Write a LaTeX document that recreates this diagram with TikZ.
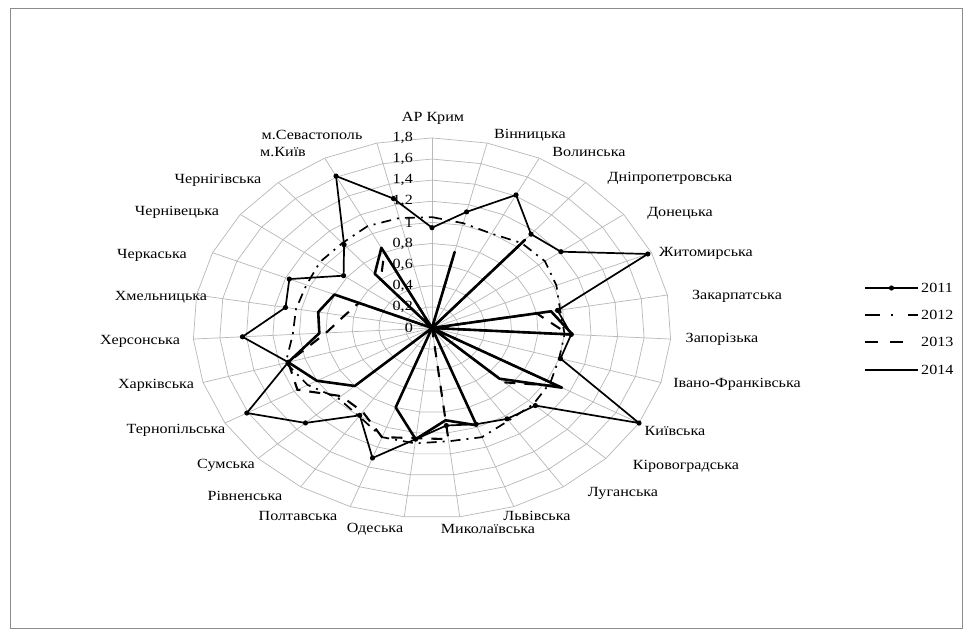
\documentclass[tikz,border=0pt]{standalone}
\usepackage{fontspec}
\setmainfont{Liberation Serif}
\usepackage{graphicx}
\newcommand\sxx[1]{\scalebox{1.15}[1]{#1}}
\begin{document}
\begin{tikzpicture}[x=1pt,y=1pt,
  gridline/.style={draw=black!28,line width=0.7pt},
  catlab/.style={font=\fontsize{14}{15}\selectfont,inner sep=0pt},
  ticklab/.style={font=\fontsize{14}{15}\selectfont,inner sep=0pt,anchor=east},
  legtext/.style={font=\fontsize{14}{15}\selectfont,inner sep=0pt,anchor=west},
  sA/.style={draw=black,line width=1.7pt,line join=round},
  sB/.style={draw=black,line width=1.7pt,dash pattern=on 10pt off 6pt on 2pt off 6pt},
  sC/.style={draw=black,line width=2.1pt,dash pattern=on 11pt off 9pt},
  sD/.style={draw=black,line width=2.6pt,line join=round},
  markdot/.style={fill=black}]
\useasboundingbox (0,0) rectangle (972,-637);
\fill[white] (0,0) rectangle (972,-637);
\draw[black!45,line width=0.8pt] (10,-8) rectangle (962,-628);
\def\dataA{{0.95,1.13,1.41,1.16,1.21,1.77,0.96,1.05,1.01,1.80,1.07,1.03,0.97,0.93,1.06,1.31,0.99,1.31,1.61,1.13,1.43,1.12,1.17,0.83,1.03,1.61,1.26}}
\def\dataB{{1.05,1.02,1.0,1.05,1.06,1.02,0.98,1.0,1.0,1.03,1.05,1.05,1.1,1.08,1.1,1.1,1.0,0.97,1.08,1.15,1.05,1.04,1.03,1.05,1.05,1.08,1.07}}
\def\dataC{{0,0.7,0,1.05,0,0,0.8,1.03,0,1.1,0.75,0,0,1.06,1.05,1.1,0.95,0.94,1.17,1.13,0.8,0.67,0.6,0,0.6,0.8,0}}
\def\dataD{{0,0.74,0,1.09,0,0,0.91,1.06,0,1.13,0.70,0,0.98,0.88,1.06,0.8,0,0.8,1.0,1.13,0.85,0.87,0.8,0,0.67,0.85,0}}
\begin{scope}[shift={(432,-328)},x=132.8pt,y=105.6pt]
  \coordinate (O) at (0,0);
  \foreach \i in {1,...,9}
    \draw[gridline] plot[samples at={0,...,26}] ({90-\x*360/27}:{\i*0.2}) -- cycle;
  \foreach \k in {0,...,26}
    \draw[gridline] (O) -- ({90-\k*360/27}:1.8);
  \foreach \v/\t [count=\n] in {0/0,0.2/{0,2},0.4/{0,4},0.6/{0,6},0.8/{0,8},1/1,1.2/{1,2},1.4/{1,4},1.6/{1,6},1.8/{1,8}}
    \node[ticklab,xshift=-19pt] (tick\n) at (0,\v) {\sxx{\t}};
  \draw[sB] plot[samples at={0,...,26}] ({90-\x*360/27}:{\dataB[\x]}) -- cycle;
  \draw[sC] plot[samples at={0,...,26}] ({90-\x*360/27}:{\dataC[\x]}) -- cycle;
  \draw[sD] plot[samples at={0,...,26}] ({90-\x*360/27}:{\dataD[\x]}) -- cycle;
  \draw[sA] plot[samples at={0,...,26}] ({90-\x*360/27}:{\dataA[\x]}) -- cycle;
  \foreach \k in {0,...,26}
    \fill[markdot] ({90-\k*360/27}:{\dataA[\k]}) circle[radius=2.6pt];
\end{scope}
% category labels
\node[catlab] (c0) at (433,-118) {\sxx{АР Крим}};
\node[catlab] (c1) at (530,-135) {\sxx{Вінницька}};
\node[catlab] (c2) at (589,-152) {\sxx{Волинська}};
\node[catlab] (c3) at (670,-178) {\sxx{Дніпропетровська}};
\node[catlab] (c4) at (680,-213) {\sxx{Донецька}};
\node[catlab] (c5) at (706,-253) {\sxx{Житомирська}};
\node[catlab] (c6) at (737,-296) {\sxx{Закарпатська}};
\node[catlab] (c7) at (722,-339) {\sxx{Запорізька}};
\node[catlab] (c8) at (737,-384) {\sxx{Івано-Франківська}};
\node[catlab] (c9) at (675,-431) {\sxx{Київська}};
\node[catlab] (c10) at (686,-466) {\sxx{Кіровоградська}};
\node[catlab] (c11) at (623,-493) {\sxx{Луганська}};
\node[catlab] (c12) at (537,-516) {\sxx{Львівська}};
\node[catlab] (c13) at (488,-529) {\sxx{Миколаївська}};
\node[catlab] (c14) at (375,-529) {\sxx{Одеська}};
\node[catlab] (c15) at (298,-516) {\sxx{Полтавська}};
\node[catlab] (c16) at (245,-496) {\sxx{Рівненська}};
\node[catlab] (c17) at (226,-465) {\sxx{Сумська}};
\node[catlab] (c18) at (176,-430) {\sxx{Тернопільська}};
\node[catlab] (c19) at (156,-385) {\sxx{Харківська}};
\node[catlab] (c20) at (140,-341) {\sxx{Херсонська}};
\node[catlab] (c21) at (161,-297) {\sxx{Хмельницька}};
\node[catlab] (c22) at (152,-255) {\sxx{Черкаська}};
\node[catlab] (c23) at (177,-212) {\sxx{Чернівецька}};
\node[catlab] (c24) at (218,-180) {\sxx{Чернігівська}};
\node[catlab] (c25) at (283,-152) {\sxx{м.Київ}};
\node[catlab] (c26) at (312,-135) {\sxx{м.Севастополь}};
% legend
\coordinate (la0) at (865,-288); \coordinate (la1) at (918,-288);
\coordinate (lb0) at (865,-315); \coordinate (lb1) at (918,-315);
\coordinate (lc0) at (865,-342); \coordinate (lc1) at (903,-342);
\coordinate (ld0) at (865,-370); \coordinate (ld1) at (918,-370);
\draw[sA] (la0) -- (la1);
\fill[markdot] (891.5,-288) circle[radius=2.6pt];
\draw[sB,dash pattern=on 15pt off 11pt on 2pt off 15pt on 10pt off 0pt] (lb0) -- (lb1);
\draw[sC,dash pattern=on 13pt off 12pt] (lc0) -- (lc1);
\draw[sD] (ld0) -- (ld1);
\node[legtext] (l1) at (921,-288) {\sxx{2011}};
\node[legtext] (l2) at (921,-315) {\sxx{2012}};
\node[legtext] (l3) at (921,-342) {\sxx{2013}};
\node[legtext] (l4) at (921,-370) {\sxx{2014}};
\end{tikzpicture}
\end{document}
